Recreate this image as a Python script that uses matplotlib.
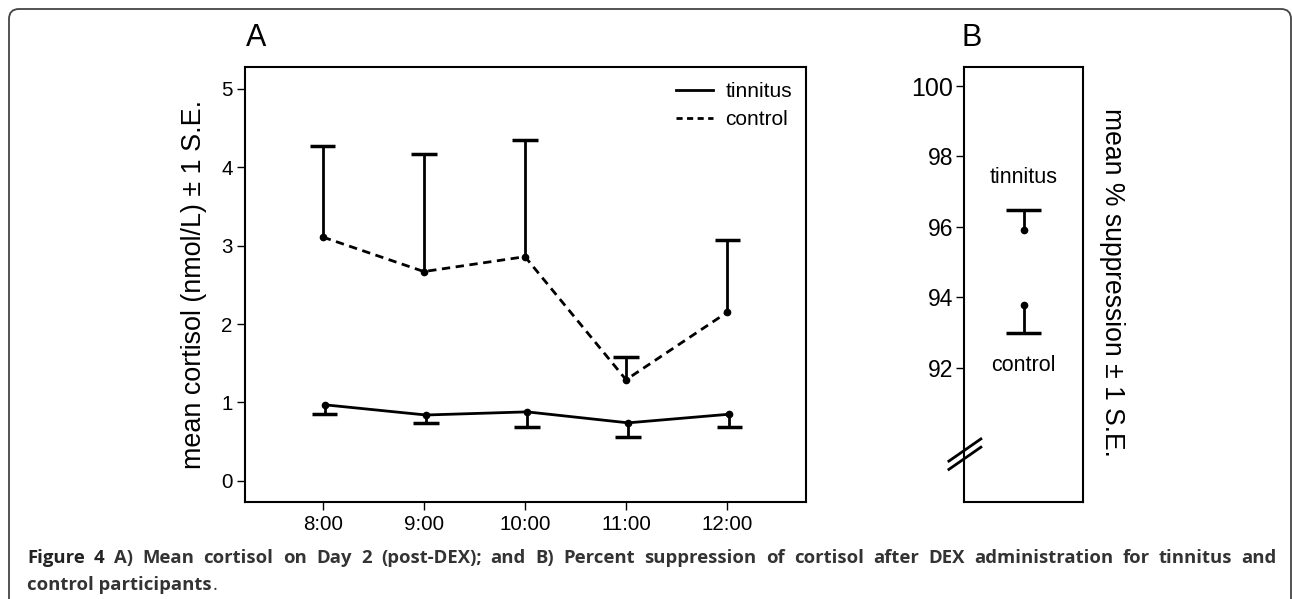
import numpy as np
import matplotlib
matplotlib.use("Agg")
import matplotlib.pyplot as plt
from matplotlib.lines import Line2D
from matplotlib.patches import FancyBboxPatch

plt.rcParams['font.family'] = ['Liberation Sans', 'DejaVu Sans']

# panel A data
times = ["8:00", "9:00", "10:00", "11:00", "12:00"]
control_mean = [3.11, 2.67, 2.86, 1.29, 2.15]
control_upper = [4.27, 4.17, 4.35, 1.58, 3.07]
tinnitus_mean = [0.97, 0.84, 0.88, 0.74, 0.85]
tinnitus_lower = [0.85, 0.74, 0.69, 0.56, 0.69]

# panel B data
groups = ["tinnitus", "control"]
supp_mean = [95.91, 93.78]
supp_err = [96.49, 92.99]   # cap end (up for tinnitus, down for control)
label_y = [97.4, 92.07]

W, H = 1292, 599
fig = plt.figure(figsize=(W / 100, H / 100), dpi=100)

# ---------- panel A
axA = fig.add_axes([245 / W, 1 - 502 / H, (806 - 245) / W, (502 - 67) / H])
x = np.arange(len(times))
cw = 0.125

axA.plot(x, control_mean, color='black', lw=2, ls=(0, (3, 2)), marker='o', ms=4.5)
axA.vlines(x, control_mean, control_upper, color='black', lw=2)
axA.hlines(control_upper, x - cw, x + cw, color='black', lw=2.5)

xt = x + 0.02
axA.plot(xt, tinnitus_mean, color='black', lw=2, marker='o', ms=4.5)
axA.vlines(xt, tinnitus_lower, tinnitus_mean, color='black', lw=2)
axA.hlines(tinnitus_lower, xt - cw, xt + cw, color='black', lw=2.5)

axA.set_xlim(-0.77, 4.78)
axA.set_ylim(-0.27, 5.28)
axA.set_xticks(x)
axA.set_xticklabels(times)
axA.set_yticks([0, 1, 2, 3, 4, 5])
axA.tick_params(direction='out', length=6, width=1, labelsize=14.8, pad=3)
for s in axA.spines.values():
    s.set_linewidth(1.5)
axA.set_ylabel("mean cortisol (nmol/L) \u00b1 1 S.E.", fontsize=19.4, labelpad=10)

handles = [Line2D([], [], color='black', lw=2),
           Line2D([], [], color='black', lw=2, ls=(0, (2.2, 1.6)))]
axA.legend(handles, ["tinnitus", "control"], loc='upper right', frameon=False,
           fontsize=15, handlelength=1.75, handletextpad=0.6, labelspacing=0.45,
           borderaxespad=0, bbox_to_anchor=(0.99, 0.985))

fig.text(256 / W, 1 - 38 / H, "A", fontsize=22, ha='center', va='center')

# ---------- panel B
axB = fig.add_axes([964.3 / W, 1 - 502 / H, (1082.7 - 964.3) / W, (502 - 67) / H])
bx = 0.5
bw = 0.144
axB.vlines([bx, bx], supp_mean, supp_err, color='black', lw=2)
axB.hlines(supp_err, bx - bw, bx + bw, color='black', lw=2.5)
axB.plot([bx, bx], supp_mean, 'o', color='black', ms=4.5)
for g, ly in zip(groups, label_y):
    axB.text(bx, ly, g, fontsize=15.5, ha='center', va='center')

axB.set_xlim(0, 1)
axB.set_ylim(88.18, 100.54)
axB.set_xticks([])
axB.set_yticks([92, 94, 96, 98, 100])
axB.tick_params(direction='out', length=6, width=1, labelsize=16.5, pad=2)
for lab in axB.get_yticklabels():
    if lab.get_text() == "100":
        lab.set_fontsize(18)
for s in axB.spines.values():
    s.set_linewidth(1.5)
axB.text(1.25, 0.505, "mean % suppression \u00b1 1 S.E.", transform=axB.transAxes,
         rotation=270, fontsize=19.1, ha='center', va='center')

# axis break marks
for dy in (0.0, -0.019):
    axB.plot([-0.13, 0.14], [0.094 + dy, 0.145 + dy], color='black', lw=2,
             transform=axB.transAxes, clip_on=False)

fig.text(972 / W, 1 - 38 / H, "B", fontsize=22, ha='center', va='center')

# ---------- frame
frame = FancyBboxPatch((9, -30), 1282, H - 9 + 30,
                       boxstyle="round,pad=0,rounding_size=10",
                       transform=None, fill=False, edgecolor='#444444', lw=1.3)
fig.patches.append(frame)

# ---------- caption (justified first line)
cap_col = '#333333'
cap_font = ['Open Sans', 'DejaVu Sans']
cap_size = 13.3
line1 = ["Figure", "4", "A)", "Mean", "cortisol", "on", "Day", "2", "(post-DEX);",
         "and", "B)", "Percent", "suppression", "of", "cortisol", "after", "DEX",
         "administration", "for", "tinnitus", "and"]
x0, x1 = 27, 1277
y1 = 1 - 563 / H
y2 = 1 - 590 / H

fig.canvas.draw()
rend = fig.canvas.get_renderer()
txts = []
widths = []
for i, wd in enumerate(line1):
    col = '#222222' if i < 2 else cap_col
    t = fig.text(0, y1, wd, fontsize=cap_size, family=cap_font, weight='bold',
                 color=col, va='baseline', ha='left')
    widths.append(t.get_window_extent(rend).width)
    txts.append(t)
gap = (x1 - x0 - sum(widths)) / (len(line1) - 1)
cx = x0
for t, w in zip(txts, widths):
    t.set_x(cx / W)
    cx += w + gap

t2 = fig.text(x0 / W, y2, "control participants", fontsize=cap_size, family=cap_font,
              weight='bold', color=cap_col, va='baseline', ha='left')
w2 = t2.get_window_extent(rend).width
fig.text((x0 + w2 + 1) / W, y2, ".", fontsize=cap_size, family=cap_font,
         weight='normal', color=cap_col, va='baseline', ha='left')

fig.savefig("out.png", dpi=100)
